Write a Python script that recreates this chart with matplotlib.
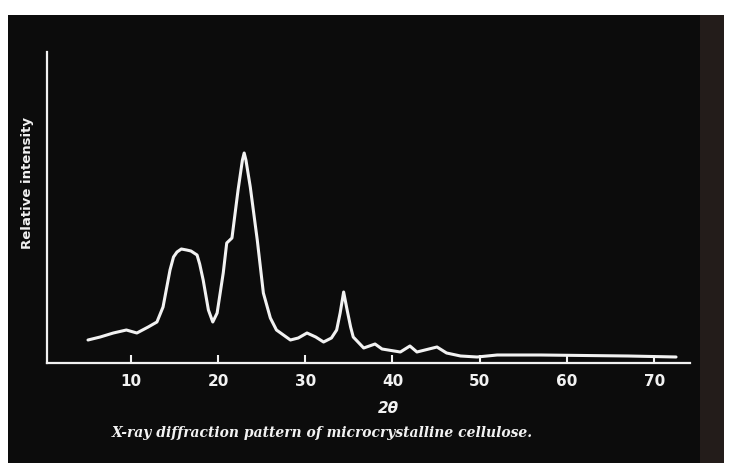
import matplotlib.pyplot as plt
from matplotlib.patches import Rectangle

# 2-theta (deg) and relative intensity
two_theta = [5.1, 6.5, 8.0, 9.5, 10.7, 12.0, 13.0, 13.7, 14.5, 14.9, 15.3, 15.8,
             16.4, 16.9, 17.6, 17.9, 18.3, 18.9, 19.4, 19.9, 20.6, 21.0, 21.6,
             22.3, 22.8, 23.0, 23.2, 23.7, 24.5, 25.2, 26.0, 26.7, 28.3, 29.2,
             30.2, 31.2, 32.1, 33.0, 33.6, 34.0, 34.4, 34.8, 35.2, 35.5, 36.7,
             38.0, 38.8, 40.9, 42.0, 42.8, 45.1, 46.2, 47.8, 49.7, 52.0, 57.0,
             62.0, 67.0, 72.5]
intensity = [23, 26, 30, 33, 30, 36, 41, 56, 93, 106, 111, 114,
             113, 112, 108, 99, 83, 53, 41, 50, 90, 120, 125,
             173, 203, 210, 203, 176, 123, 70, 45, 33, 23, 25,
             30, 26, 21, 25, 33, 50, 71, 53, 36, 26, 15,
             19, 14, 11, 17, 11, 16, 10, 7, 6, 8, 8,
             7.5, 7, 6]

xticks = [10, 20, 30, 40, 50, 60, 70]
ink = '#f2f2f2'

fig = plt.figure(figsize=(7.33, 4.73), dpi=100, facecolor='white')
# dark photo area
fig.patches.append(Rectangle((8 / 733, 10 / 473), 716 / 733, 448 / 473,
                             transform=fig.transFigure, facecolor='#0c0c0c',
                             edgecolor='none', zorder=-2))
fig.patches.append(Rectangle((700 / 733, 10 / 473), 24 / 733, 448 / 473,
                             transform=fig.transFigure, facecolor='#231c1a',
                             edgecolor='none', zorder=-1))

ax = fig.add_axes([47 / 733, 110 / 473, 643 / 733, 311 / 473])
ax.set_zorder(3)
ax.set_facecolor('none')
ax.plot(two_theta, intensity, color=ink, lw=2.2, solid_capstyle='round')

ax.set_xlim(0.4, 74.1)
ax.set_ylim(0, 311)
for s in ['top', 'right']:
    ax.spines[s].set_visible(False)
for s in ['left', 'bottom']:
    ax.spines[s].set_color(ink)
    ax.spines[s].set_linewidth(1.6)

ax.set_xticks(xticks)
ax.set_xticklabels([str(t) for t in xticks])
ax.set_yticks([])
ax.tick_params(axis='x', direction='in', length=6, width=1.5, color=ink,
               labelcolor=ink, labelsize=11, pad=8)
for lab in ax.get_xticklabels():
    lab.set_fontweight('bold')

fig.text(28 / 733, 1 - 183 / 473, 'Relative intensity', rotation=90,
         color=ink, fontsize=9.5, fontweight='bold', ha='center', va='center')
fig.text(388 / 733, 1 - 408 / 473, '2θ', color=ink, fontsize=11,
         style='italic', fontweight='bold', ha='center', va='center')
fig.text(322 / 733, 1 - 433 / 473,
         'X-ray diffraction pattern of microcrystalline cellulose.',
         color=ink, fontsize=10, style='italic', fontweight='bold',
         family='DejaVu Serif', ha='center', va='center')

plt.savefig('out.png', dpi=100, facecolor=fig.get_facecolor())
